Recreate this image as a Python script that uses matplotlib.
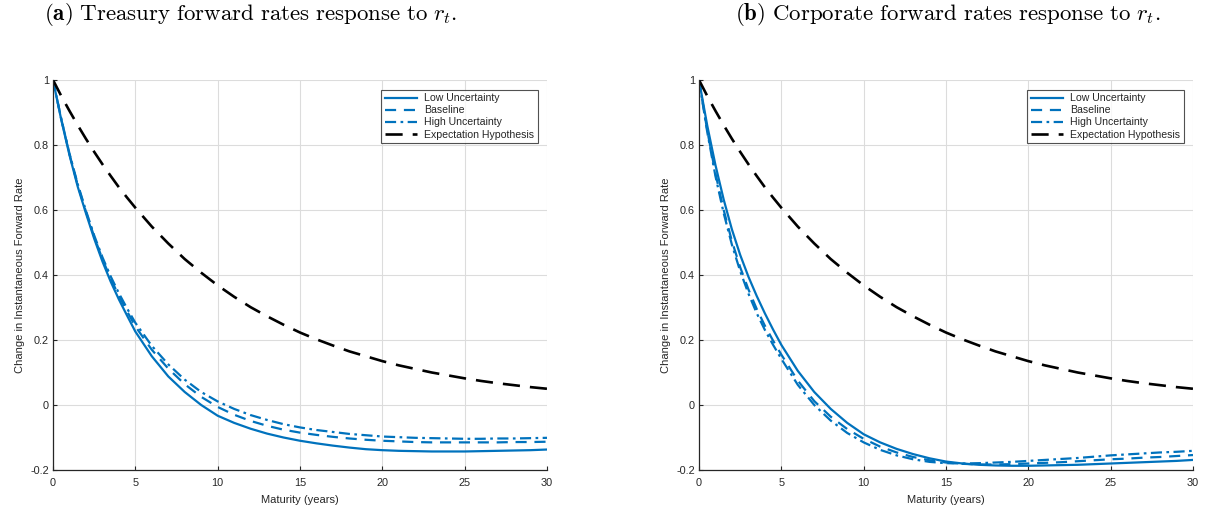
import matplotlib
matplotlib.use("Agg")
import matplotlib.pyplot as plt

plt.rcParams['font.family'] = ['Liberation Sans', 'DejaVu Sans']
plt.rcParams['mathtext.fontset'] = 'cm'

# Maturities (years)
maturity = [0, 0.5, 1, 1.5, 2, 2.5, 3, 3.5, 4, 4.5, 5, 6, 7, 8, 9, 10, 11, 12, 13, 14, 15,
            16, 17, 18, 19, 20, 21, 22, 23, 24, 25, 26, 27, 28, 29, 30]

# Treasury forward rate responses
treas_low = [1.000, 0.878, 0.769, 0.672, 0.590, 0.512, 0.442, 0.380, 0.325, 0.275, 0.226,
             0.150, 0.088, 0.040, 0.000, -0.033, -0.055, -0.073, -0.088, -0.100, -0.110,
             -0.118, -0.125, -0.131, -0.136, -0.139, -0.141, -0.142, -0.143, -0.143, -0.143,
             -0.142, -0.141, -0.140, -0.139, -0.137]
treas_base = [1.000, 0.880, 0.772, 0.677, 0.595, 0.518, 0.449, 0.389, 0.336, 0.288, 0.242,
              0.170, 0.112, 0.064, 0.025, -0.006, -0.030, -0.049, -0.064, -0.076, -0.085,
              -0.092, -0.098, -0.103, -0.107, -0.110, -0.112, -0.114, -0.115, -0.115, -0.115,
              -0.115, -0.115, -0.114, -0.114, -0.113]
treas_high = [1.000, 0.881, 0.774, 0.680, 0.598, 0.522, 0.455, 0.396, 0.344, 0.297, 0.253,
              0.182, 0.125, 0.078, 0.040, 0.011, -0.012, -0.031, -0.046, -0.059, -0.069,
              -0.077, -0.083, -0.089, -0.093, -0.097, -0.099, -0.101, -0.102, -0.103, -0.104,
              -0.104, -0.103, -0.103, -0.102, -0.101]

# Corporate forward rate responses
corp_low = [1.000, 0.860, 0.738, 0.632, 0.540, 0.462, 0.395, 0.336, 0.282, 0.232, 0.185,
            0.105, 0.040, -0.012, -0.055, -0.090, -0.115, -0.135, -0.151, -0.164, -0.174,
            -0.180, -0.184, -0.186, -0.187, -0.187, -0.186, -0.185, -0.184, -0.182, -0.180,
            -0.178, -0.176, -0.174, -0.172, -0.169]
corp_base = [1.000, 0.845, 0.712, 0.600, 0.504, 0.424, 0.356, 0.296, 0.244, 0.198, 0.155,
             0.075, 0.012, -0.036, -0.074, -0.104, -0.128, -0.146, -0.160, -0.170, -0.177,
             -0.181, -0.183, -0.183, -0.182, -0.180, -0.178, -0.176, -0.173, -0.170, -0.167,
             -0.165, -0.162, -0.160, -0.157, -0.154]
corp_high = [1.000, 0.840, 0.704, 0.590, 0.493, 0.412, 0.343, 0.283, 0.231, 0.185, 0.142,
             0.062, 0.000, -0.048, -0.086, -0.115, -0.138, -0.155, -0.167, -0.175, -0.179,
             -0.180, -0.179, -0.177, -0.175, -0.172, -0.169, -0.166, -0.163, -0.159, -0.155,
             -0.152, -0.149, -0.146, -0.144, -0.141]

# Expectation hypothesis response (same in both panels)
expect_hyp = [1.000, 0.951, 0.905, 0.861, 0.819, 0.779, 0.741, 0.705, 0.670, 0.638, 0.607,
              0.549, 0.497, 0.449, 0.407, 0.368, 0.333, 0.301, 0.273, 0.247, 0.223,
              0.202, 0.183, 0.165, 0.150, 0.135, 0.122, 0.111, 0.100, 0.091, 0.082,
              0.074, 0.067, 0.061, 0.055, 0.050]

legend_labels = ["Low Uncertainty", "Baseline", "High Uncertainty", "Expectation Hypothesis"]
x_ticks = [0, 5, 10, 15, 20, 25, 30]
y_ticks = [-0.2, 0, 0.2, 0.4, 0.6, 0.8, 1]
y_ticklabels = ["-0.2", "0", "0.2", "0.4", "0.6", "0.8", "1"]

titles = [r"$\mathbf{(a)}\ \mathrm{Treasury\ forward\ rates\ response\ to}\ r_t.$",
          r"$\mathbf{(b)}\ \mathrm{Corporate\ forward\ rates\ response\ to}\ r_t.$"]

blue = "#0072BD"
fig = plt.figure(figsize=(12.09, 5.12), dpi=100)

panels = [(treas_low, treas_base, treas_high), (corp_low, corp_base, corp_high)]
lefts = [53 / 1209, 699 / 1209]
title_x = [251 / 1209, 948 / 1209]

for i, (low, base, high) in enumerate(panels):
    ax = fig.add_axes([lefts[i], 42 / 512, 494 / 1209, 390 / 512])
    ax.plot(maturity, low, color=blue, lw=1.6, ls='-', label=legend_labels[0])
    ax.plot(maturity, base, color=blue, lw=1.6, ls=(0, (5, 3.5)), label=legend_labels[1])
    ax.plot(maturity, high, color=blue, lw=1.6, ls=(0, (5, 2, 1.2, 2)), label=legend_labels[2])
    ax.plot(maturity, expect_hyp, color='black', lw=1.9, ls=(0, (6.5, 3.8)), label=legend_labels[3])
    ax.set_xlim(0, 30)
    ax.set_ylim(-0.2, 1)
    ax.set_xticks(x_ticks)
    ax.set_yticks(y_ticks)
    ax.set_yticklabels(y_ticklabels)
    ax.grid(True, color='#dcdcdc', lw=0.8)
    ax.set_axisbelow(True)
    for s in ['top', 'right']:
        ax.spines[s].set_visible(False)
    for s in ['left', 'bottom']:
        ax.spines[s].set_color('#262626')
        ax.spines[s].set_linewidth(0.9)
    ax.tick_params(direction='in', length=3, width=0.8, colors='#262626',
                   labelsize=7.8, labelcolor='#262626', pad=3)
    ax.tick_params(axis='x', pad=6)
    ax.set_xlabel("Maturity (years)", fontsize=8, color='#262626', labelpad=5)
    ax.set_ylabel("Change in Instantaneous Forward Rate", fontsize=8, color='#262626', labelpad=4)
    leg = ax.legend(loc='upper right', fontsize=7.6, frameon=True, fancybox=False,
                    edgecolor='#262626', handlelength=3.1, borderaxespad=0.9,
                    labelspacing=0.2, handletextpad=0.6, borderpad=0.35)
    leg.get_frame().set_linewidth(0.8)
    for t in leg.get_texts():
        t.set_color('#262626')
    fig.text(title_x[i], 498 / 512, titles[i], ha='center', va='center', fontsize=16.5)

fig.savefig("out.png", dpi=100)
